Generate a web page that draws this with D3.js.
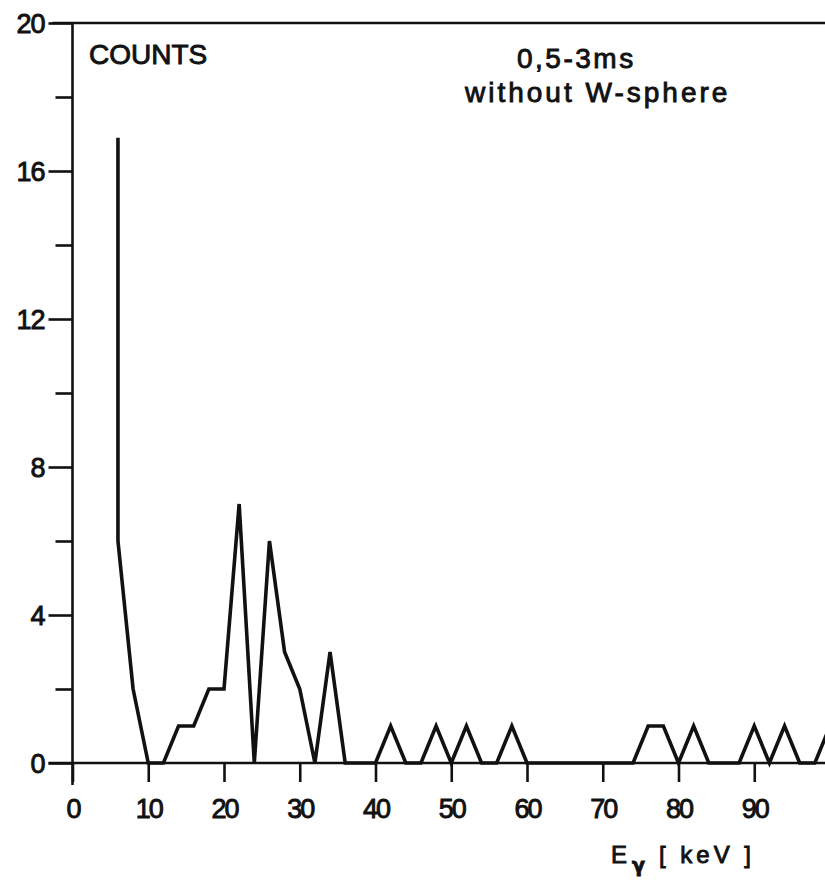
<!DOCTYPE html>
<html lang="en">
  <head>
    <meta charset="utf-8">
    <title>Counts vs E gamma</title>
    <script src="https://d3js.org/d3.v7.min.js"></script>
    <style>
      body { margin: 0; background: #fff; }
      text { font-family: "Liberation Sans", Arial, sans-serif; fill: #111; stroke: #111; stroke-width: 0.9px; }
    </style>
  </head>
  <body>
    <script>
      // spectrum (E in keV, counts per 2 keV bin)
      const energies = [6, 6, 8, 10, 12, 14, 16, 18, 20, 22, 24, 26, 28, 30, 32, 34, 36, 38,
                        40, 42, 44, 46, 48, 50, 52, 54, 56, 58, 60, 62, 64, 66, 68, 70, 72,
                        74, 76, 78, 80, 82, 84, 86, 88, 90, 92, 94, 96, 98, 100, 102];
      const counts = [16.9, 6, 2, 0, 0, 1, 1, 2, 2, 7, 0, 6, 3, 2, 0, 3, 0, 0,
                      0, 1, 0, 0, 1, 0, 1, 0, 0, 1, 0, 0, 0, 0, 0, 0, 0,
                      0, 1, 1, 0, 1, 0, 0, 0, 1, 0, 1, 0, 0, 1, 0];
      const xTicks = [0, 10, 20, 30, 40, 50, 60, 70, 80, 90];
      const yTicks = [0, 2, 4, 6, 8, 10, 12, 14, 16, 18, 20];

      const width = 825;
      const height = 883;

      const x = d3.scaleLinear().domain([0, 100]).range([72.5, 830]);
      const y = d3.scaleLinear().domain([0, 20]).range([763, 23]);

      const svg = d3.select("body").append("svg")
                    .attr("width", width)
                    .attr("height", height)
                    .style("background", "#fff");

      const ink = "#111";

      // frame lines
      svg.append("line")
         .attr("x1", x(0) - 20).attr("x2", width)
         .attr("y1", y(20)).attr("y2", y(20))
         .attr("stroke", ink).attr("stroke-width", 2.6);
      svg.append("line")
         .attr("x1", x(0) - 24).attr("x2", width)
         .attr("y1", y(0)).attr("y2", y(0))
         .attr("stroke", ink).attr("stroke-width", 2.6);
      svg.append("line")
         .attr("x1", x(0)).attr("x2", x(0))
         .attr("y1", y(20)).attr("y2", y(0) + 22)
         .attr("stroke", ink).attr("stroke-width", 2.6);

      // y axis
      const yAxis = svg.append("g")
                       .attr("transform", `translate(${x(0)},0)`)
                       .call(d3.axisLeft(y).tickValues(yTicks)
                               .tickSize(17).tickSizeOuter(0)
                               .tickFormat(d => d % 4 === 0 ? d : ""));
      yAxis.select(".domain").remove();
      yAxis.selectAll(".tick line")
           .attr("stroke", ink).attr("stroke-width", 2.6)
           .attr("x2", d => d % 4 === 0 ? -24 : -17);
      yAxis.selectAll(".tick text")
           .attr("x", -28)
           .attr("dy", "0.36em")
           .attr("fill", ink)
           .style("font-size", "27px")
           .style("letter-spacing", "-1px");

      // x axis
      const xAxis = svg.append("g")
                       .attr("transform", `translate(0,${y(0)})`)
                       .call(d3.axisBottom(x).tickValues(xTicks)
                               .tickSize(19).tickSizeOuter(0).tickPadding(17));
      xAxis.select(".domain").remove();
      xAxis.selectAll(".tick line").attr("stroke", ink).attr("stroke-width", 2.6);
      xAxis.selectAll(".tick text")
           .attr("fill", ink)
           .style("font-size", "27px")
           .style("letter-spacing", "-2px");

      // spectrum line
      const line = d3.line()
                     .x((d, i) => x(energies[i]))
                     .y(d => y(d));
      svg.append("path")
         .datum(counts)
         .attr("d", line)
         .attr("fill", "none")
         .attr("stroke", ink)
         .attr("stroke-width", 3.6)
         .attr("stroke-linejoin", "miter");

      // texts
      svg.append("text")
         .attr("x", 89).attr("y", 64)
         .style("font-size", "28px")
         .text("COUNTS");
      svg.append("text")
         .attr("x", 517).attr("y", 68)
         .style("font-size", "28px")
         .style("letter-spacing", "2.5px")
         .text("0,5-3ms");
      svg.append("text")
         .attr("x", 465).attr("y", 102)
         .style("font-size", "28px")
         .style("letter-spacing", "3px")
         .text("without W-sphere");

      const xlab = svg.append("text")
                      .attr("x", 611).attr("y", 863)
                      .style("font-size", "24px");
      xlab.append("tspan").text("E");
      xlab.append("tspan")
          .attr("dx", 5).attr("dy", 9)
          .style("font-family", "DejaVu Sans")
          .style("font-size", "19px")
          .style("font-weight", "bold")
          .text("γ");
      xlab.append("tspan")
          .attr("x", 659).attr("y", 863)
          .style("letter-spacing", "4px")
          .text("[ keV ]");
    </script>
  </body>
</html>
